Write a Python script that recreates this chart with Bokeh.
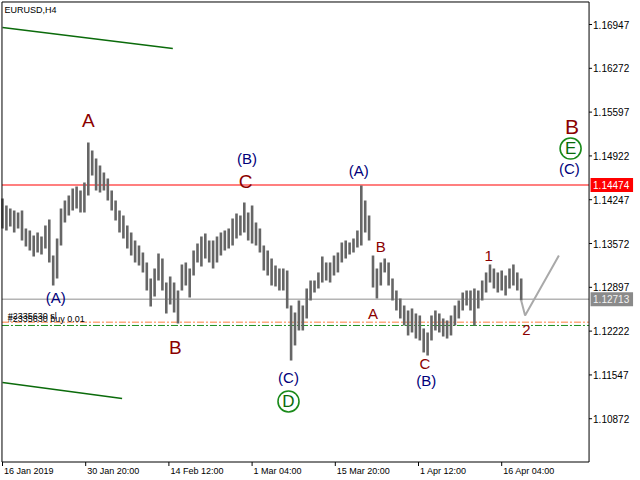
from bokeh.plotting import figure
from bokeh.models import Range1d
from bokeh.core.properties import value
from bokeh.embed import file_html
from bokeh.resources import INLINE

# ---- data -------------------------------------------------------------
BAR_STEP = 3  # each drawn bar = 3 H4 bars
highs = [1.14266, 1.14158, 1.14112, 1.14081, 1.14050, 1.14081, 1.13804, 1.13773, 1.13696, 1.13742,
         1.13680, 1.13850, 1.13942, 1.13387, 1.13649, 1.14112, 1.14235, 1.14312, 1.14420, 1.14451,
         1.14389, 1.14512, 1.15129, 1.15006, 1.14882, 1.14774, 1.14667, 1.14574, 1.14389, 1.14235,
         1.14081, 1.14004, 1.13850, 1.13742, 1.13619, 1.13542, 1.13434, 1.13280, 1.13033, 1.13187,
         1.13418, 1.13341, 1.12971, 1.13064, 1.12971, 1.12848, 1.13249, 1.13280, 1.13187, 1.13465,
         1.13572, 1.13680, 1.13726, 1.13619, 1.13619, 1.13680, 1.13742, 1.13773, 1.13804, 1.13958,
         1.14035, 1.14004, 1.14204, 1.14050, 1.14158, 1.13896, 1.13804, 1.13542, 1.13465, 1.13341,
         1.13233, 1.13187, 1.13187, 1.13156, 1.12617, 1.12509, 1.12694, 1.12617, 1.12879, 1.13002,
         1.13002, 1.13126, 1.13372, 1.13280, 1.13280, 1.13387, 1.13434, 1.13588, 1.13619, 1.13588,
         1.13649, 1.13773, 1.14466, 1.14235, 1.14004, 1.13387, 1.13187, 1.13280, 1.13341, 1.13280,
         1.13033, 1.12848, 1.12725, 1.12617, 1.12540, 1.12571, 1.12494, 1.12463, 1.12263, 1.12201,
         1.12463, 1.12540, 1.12494, 1.12417, 1.12386, 1.12463, 1.12617, 1.12694, 1.12817, 1.12848,
         1.12848, 1.12879, 1.12848, 1.13002, 1.13126, 1.13249, 1.13187, 1.13126, 1.13156, 1.13079,
         1.13187, 1.13249, 1.13126, 1.13033]
lows = [1.13804, 1.13773, 1.13834, 1.13742, 1.13804, 1.13619, 1.13526, 1.13465, 1.13372, 1.13434,
        1.13403, 1.13495, 1.13280, 1.12925, 1.13033, 1.13542, 1.13896, 1.14004, 1.14081, 1.14112,
        1.14050, 1.14050, 1.14312, 1.14620, 1.14389, 1.14358, 1.14389, 1.14235, 1.14081, 1.13927,
        1.13742, 1.13649, 1.13495, 1.13387, 1.13280, 1.13233, 1.13126, 1.12848, 1.12602, 1.12756,
        1.13002, 1.12848, 1.12494, 1.12632, 1.12509, 1.12340, 1.12848, 1.12925, 1.12740, 1.13079,
        1.13280, 1.13218, 1.13341, 1.13280, 1.13187, 1.13280, 1.13387, 1.13465, 1.13495, 1.13542,
        1.13649, 1.13696, 1.13742, 1.13619, 1.13572, 1.13542, 1.13434, 1.13156, 1.13079, 1.12925,
        1.12910, 1.12848, 1.12848, 1.12571, 1.11769, 1.12001, 1.12232, 1.12232, 1.12417, 1.12694,
        1.12817, 1.12879, 1.12971, 1.13002, 1.12971, 1.13079, 1.13126, 1.13280, 1.13341, 1.13403,
        1.13434, 1.13511, 1.13542, 1.13742, 1.13619, 1.12894, 1.12725, 1.12925, 1.13126, 1.12925,
        1.12694, 1.12540, 1.12417, 1.12309, 1.12155, 1.12201, 1.12108, 1.12078, 1.11893, 1.11846,
        1.12078, 1.12232, 1.12201, 1.12139, 1.12108, 1.12155, 1.12309, 1.12417, 1.12540, 1.12617,
        1.12540, 1.12309, 1.12571, 1.12694, 1.12817, 1.12971, 1.12879, 1.12817, 1.12848, 1.12771,
        1.12879, 1.12925, 1.12848, 1.12694]

forecast_bar = [399, 402, 428]
forecast_price = [1.12694, 1.12463, 1.13387]

time_tick_bars = [0, 64, 128, 192, 256, 320, 384]
time_tick_labels = ["16 Jan 2019", "30 Jan 20:00", "14 Feb 12:00", "1 Mar 04:00",
                    "15 Mar 20:00", "1 Apr 12:00", "16 Apr 04:00"]
price_ticks = [1.10872, 1.11547, 1.12222, 1.12897, 1.13572, 1.14247,
               1.14922, 1.15597, 1.16272, 1.16947]

resistance_price = 1.14474
bid_price = 1.12713
sl_price = 1.12360
buy_price = 1.12309

trend_top = ([0, 131], [1.16901, 1.16577])
trend_bottom = ([0, 92], [1.11430, 1.11184])

# wave labels: text, bar, price, kind
waves = [
    ("A", 66, 1.15468, "red_big"), ("(A)", 41, 1.12740, "blue"),
    ("B", 133, 1.11970, "red_big"), ("(B)", 188, 1.14882, "blue"),
    ("C", 187, 1.14528, "red_big"), ("(C)", 220, 1.11507, "blue"),
    ("(A)", 274, 1.14697, "blue"), ("B", 291, 1.13526, "red"),
    ("A", 285, 1.12494, "red"), ("C", 325, 1.11723, "red"),
    ("(B)", 326, 1.11461, "blue"), ("1", 374, 1.13372, "red"),
    ("2", 403, 1.12232, "red"), ("B", 438, 1.15375, "red_huge"),
    ("(C)", 436, 1.14728, "blue"),
]
circled = [("D", 220, 1.11138), ("E", 437, 1.15036)]

# ---- layout constants (chart window in data units) ----------------------
PX_BAR = 1.3          # pixels per H4 bar
PX_PRICE = 0.0001541  # price per pixel
X_LEFT, X_RIGHT = -0.4, 451.2          # chart frame edges (bars)
Y_TOP, Y_BOTTOM = 1.17294, 1.10205     # chart frame edges (price)

FONT = "Liberation Sans"
p = figure(width=640, height=480,
           x_range=Range1d(-1.54, 490.77), y_range=Range1d(1.09920, 1.17317),
           output_backend="svg", toolbar_location=None,
           min_border=0, x_axis_location=None, y_axis_location=None)
p.grid.visible = False
p.outline_line_color = None
p.background_fill_color = "white"
p.border_fill_color = "white"

# price level lines
p.line([X_LEFT, X_RIGHT], [resistance_price] * 2, color="#ff0000", line_width=1.2)
p.line([X_LEFT, X_RIGHT], [bid_price] * 2, color="#b4b4b4", line_width=1.5)
p.line([X_LEFT, X_RIGHT], [sl_price] * 2, color="#ff7f3f", line_width=1, line_dash="7 2 2 2")
p.line([X_LEFT, X_RIGHT], [buy_price] * 2, color="#1f8f1f", line_width=1, line_dash="7 2 2 2")

# trend lines
for xs, ys in (trend_top, trend_bottom):
    p.line(xs, ys, color="#0b6b0b", line_width=1.6)

# price bars
xs = [i * BAR_STEP for i in range(len(highs))]
p.segment(x0=xs, y0=lows, x1=xs, y1=highs, color="#666666", line_width=2.6)

# forecast
p.line(forecast_bar, forecast_price, color="#a9a9a9", line_width=2)

# wave labels
styles = {"red_big": ("#8b0000", "19px"), "red": ("#8b0000", "15px"),
          "red_huge": ("#8b0000", "21px"), "blue": ("#00007a", "15px")}
for txt, b, pr, kind in waves:
    col, fs = styles[kind]
    p.text(x=[b], y=[pr], text=[txt], text_color=col, text_font=value(FONT),
           text_font_size=fs, text_align="center", text_baseline="middle")
for txt, b, pr in circled:
    p.scatter(x=[b], y=[pr], marker="circle", size=21, fill_color=None,
              line_color="#1a8a1a", line_width=1.6)
    p.text(x=[b], y=[pr], text=[txt], text_color="#0a6a0a", text_font=value(FONT),
           text_font_size="17px", text_align="center", text_baseline="middle")

# order labels
p.text(x=[4], y=[sl_price], text=["#2335630 sl"], text_color="black", text_font=value(FONT),
       text_font_size="9px", text_align="left", text_baseline="bottom", y_offset=-1)
p.text(x=[4], y=[buy_price], text=["#2335630 buy 0.01"], text_color="black",
       text_font=value(FONT), text_font_size="9px", text_align="left",
       text_baseline="bottom", y_offset=-1)

# symbol title
p.text(x=[1.5], y=[Y_TOP], text=["EURUSD,H4"], text_color="black", text_font=value(FONT),
       text_font_size="9px", text_align="left", text_baseline="top", y_offset=3)

# chart frame
p.line([X_LEFT, X_LEFT, X_RIGHT, X_RIGHT, X_LEFT],
       [Y_BOTTOM, Y_TOP, Y_TOP, Y_BOTTOM, Y_BOTTOM], color="black", line_width=1)

# price scale (right)
p.segment(x0=[X_RIGHT] * len(price_ticks), x1=[X_RIGHT + 3 / PX_BAR] * len(price_ticks),
          y0=price_ticks, y1=price_ticks, color="black", line_width=1)
p.text(x=[X_RIGHT + 4 / PX_BAR] * len(price_ticks), y=price_ticks,
       text=[f"{v:.5f}" for v in price_ticks], text_color="black", text_font=value(FONT),
       text_font_size="10px", text_align="left", text_baseline="middle")

# price tags
for pr, bg, fg in ((resistance_price, "#ff0000", "white"), (bid_price, "#8a8a8a", "#f2f2f2")):
    p.quad(left=[X_RIGHT + 1.5 / PX_BAR], right=[X_RIGHT + 44 / PX_BAR],
           bottom=[pr - 7 * PX_PRICE], top=[pr + 7 * PX_PRICE], fill_color=bg, line_color=None)
    p.text(x=[X_RIGHT + 4 / PX_BAR], y=[pr], text=[f"{pr:.5f}"], text_color=fg,
           text_font=value(FONT), text_font_size="10px", text_align="left",
           text_baseline="middle")

# time scale (bottom)
p.segment(x0=time_tick_bars, x1=time_tick_bars, y0=[Y_BOTTOM] * len(time_tick_bars),
          y1=[Y_BOTTOM - 4 * PX_PRICE] * len(time_tick_bars), color="black", line_width=1)
p.text(x=[b + 1.5 / PX_BAR for b in time_tick_bars], y=[Y_BOTTOM - 3.5 * PX_PRICE] * len(time_tick_bars),
       text=time_tick_labels, text_color="black", text_font=value(FONT),
       text_font_size="9px", text_align="left", text_baseline="top")

open("out.html", "w").write(file_html(p, INLINE))
